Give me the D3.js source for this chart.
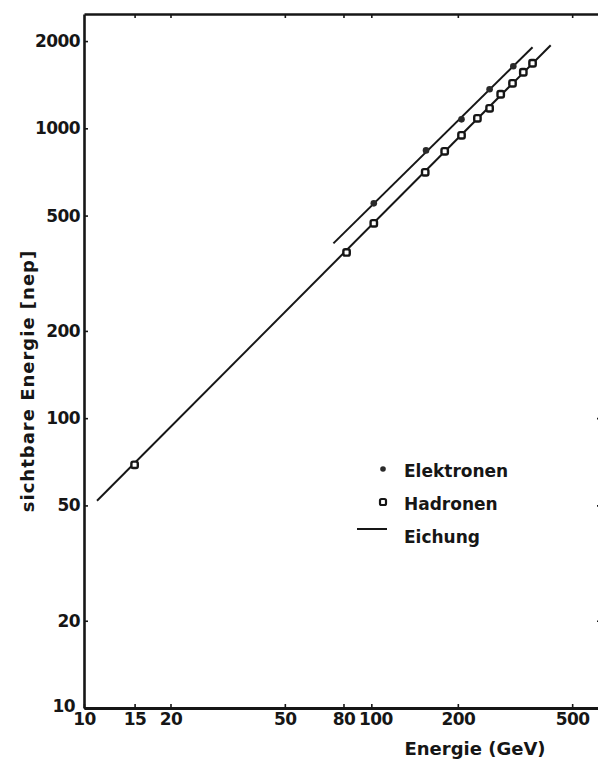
<!DOCTYPE html>
<html>
<head>
	<meta charset="utf-8" />
	<title>sichtbare Energie</title>
	<script src="https://d3js.org/d3.v7.min.js"></script>
	<style>
		body { margin: 0; background: #fff; }
		text { font-family: "DejaVu Sans", sans-serif; font-weight: bold; fill: #161616; }
	</style>
</head>
<body>

<script>

// tick labels
var xTicks = [10, 15, 20, 50, 80, 100, 200, 500];
var yTicks = [10, 20, 50, 100, 200, 500, 1000, 2000];
var topTicks = [15, 20, 50, 80, 100, 200, 500];
var rightTicks = [20, 50, 100];

// Hadronen (Energie GeV, sichtbare Energie nep)
var hadronE   = [15, 82, 102, 154, 180, 206, 234, 258, 282, 310, 338, 364];
var hadronVis = [69, 373, 470, 705, 833, 946, 1083, 1172, 1311, 1430, 1561, 1677];

// Elektronen
var elektronE   = [102, 155, 206, 258, 312];
var elektronVis = [551, 839, 1074, 1364, 1637];

// Eichung lines (end points)
var eichHadE   = [11.1, 421];
var eichHadVis = [51.9, 1936];
var eichElE    = [73.8, 364];
var eichElVis  = [401, 1905];

var legendLabels = ["Elektronen", "Hadronen", "Eichung"];

var ink = "#161616";

var svg = d3.select("body").append("svg")
			.attr("width", 598)
			.attr("height", 760);

var x = d3.scaleLog().domain([10, 630]).range([84, 601]);
var y = d3.scaleLog().domain([10, 2480]).range([708, 14]);

// axes (ticks point inward)
var gx = svg.append("g")
		.attr("transform", "translate(0,708)")
		.call(d3.axisBottom(x).tickValues(xTicks).tickFormat(d3.format("d"))
			.tickSize(-4).tickSizeOuter(0).tickPadding(5));

var gy = svg.append("g")
		.attr("transform", "translate(84,0)")
		.call(d3.axisLeft(y).tickValues(yTicks).tickFormat(d3.format("d"))
			.tickSize(-4).tickSizeOuter(0).tickPadding(4));

var gt = svg.append("g")
		.attr("transform", "translate(0,14)")
		.call(d3.axisTop(x).tickValues(topTicks).tickFormat("")
			.tickSize(-4).tickSizeOuter(0));

var gr = svg.append("g")
		.attr("transform", "translate(601,0)")
		.call(d3.axisRight(y).tickValues(rightTicks).tickFormat("")
			.tickSize(-4).tickSizeOuter(0));

svg.selectAll(".domain").attr("stroke", ink).attr("stroke-width", 2.6);
gx.select(".domain").attr("stroke-width", 3);
svg.selectAll(".tick line").attr("stroke", ink).attr("stroke-width", 1.6);
svg.selectAll(".tick text")
	.attr("fill", ink)
	.attr("font-family", "DejaVu Sans")
	.attr("font-weight", "bold")
	.attr("font-size", "17px")
	.attr("letter-spacing", "-0.6px");

gy.selectAll(".tick text")
	.filter(function(d){ return d === 10; })
	.attr("x", -9)
	.attr("dy", "0.2em");

gx.selectAll(".tick text")
	.filter(function(d){ return d === 100; })
	.attr("x", 4);

// Eichung lines
var line = d3.line()
		.x(function(d){ return x(d[0]); })
		.y(function(d){ return y(d[1]); });

svg.append("path")
	.datum(d3.zip(eichHadE, eichHadVis))
	.attr("d", line)
	.attr("fill", "none")
	.attr("stroke", ink)
	.attr("stroke-width", 2);

svg.append("path")
	.datum(d3.zip(eichElE, eichElVis))
	.attr("d", line)
	.attr("fill", "none")
	.attr("stroke", ink)
	.attr("stroke-width", 2);

// Hadronen markers
svg.selectAll("rect.hadron")
	.data(d3.zip(hadronE, hadronVis))
	.enter()
	.append("rect")
	.attr("class", "hadron")
	.attr("x", function(d){ return x(d[0]) - 3.2; })
	.attr("y", function(d){ return y(d[1]) - 3.2; })
	.attr("width", 6.4)
	.attr("height", 6.4)
	.attr("rx", 1.8)
	.attr("fill", "#fff")
	.attr("stroke", ink)
	.attr("stroke-width", 2.4);

// Elektronen markers
svg.selectAll("circle.elektron")
	.data(d3.zip(elektronE, elektronVis))
	.enter()
	.append("circle")
	.attr("class", "elektron")
	.attr("cx", function(d){ return x(d[0]); })
	.attr("cy", function(d){ return y(d[1]); })
	.attr("r", 3.3)
	.attr("fill", "#2a2a2a");

// legend
var legend = svg.append("g").attr("transform", "translate(383,469)");

legend.append("circle")
	.attr("cx", 0).attr("cy", 0).attr("r", 2.8)
	.attr("fill", "#2a2a2a");

legend.append("rect")
	.attr("x", -3).attr("y", 30).attr("width", 6).attr("height", 6).attr("rx", 1.5)
	.attr("fill", "#fff").attr("stroke", ink).attr("stroke-width", 2.2);

legend.append("line")
	.attr("x1", -26).attr("x2", 4).attr("y1", 60).attr("y2", 60)
	.attr("stroke", ink).attr("stroke-width", 2);

legend.selectAll("text")
	.data(legendLabels)
	.enter()
	.append("text")
	.attr("x", 21)
	.attr("y", function(d, i){ return 8 + i * 33; })
	.attr("font-size", "17px")
	.text(function(d){ return d; });

// axis titles
svg.append("text")
	.attr("x", 475)
	.attr("y", 755)
	.attr("text-anchor", "middle")
	.attr("font-size", "18px")
	.text("Energie (GeV)");

svg.append("text")
	.attr("transform", "translate(34,381) rotate(-90)")
	.attr("text-anchor", "middle")
	.attr("font-size", "18px")
	.attr("letter-spacing", "1px")
	.text("sichtbare Energie [nep]");

</script>
</body>
</html>
